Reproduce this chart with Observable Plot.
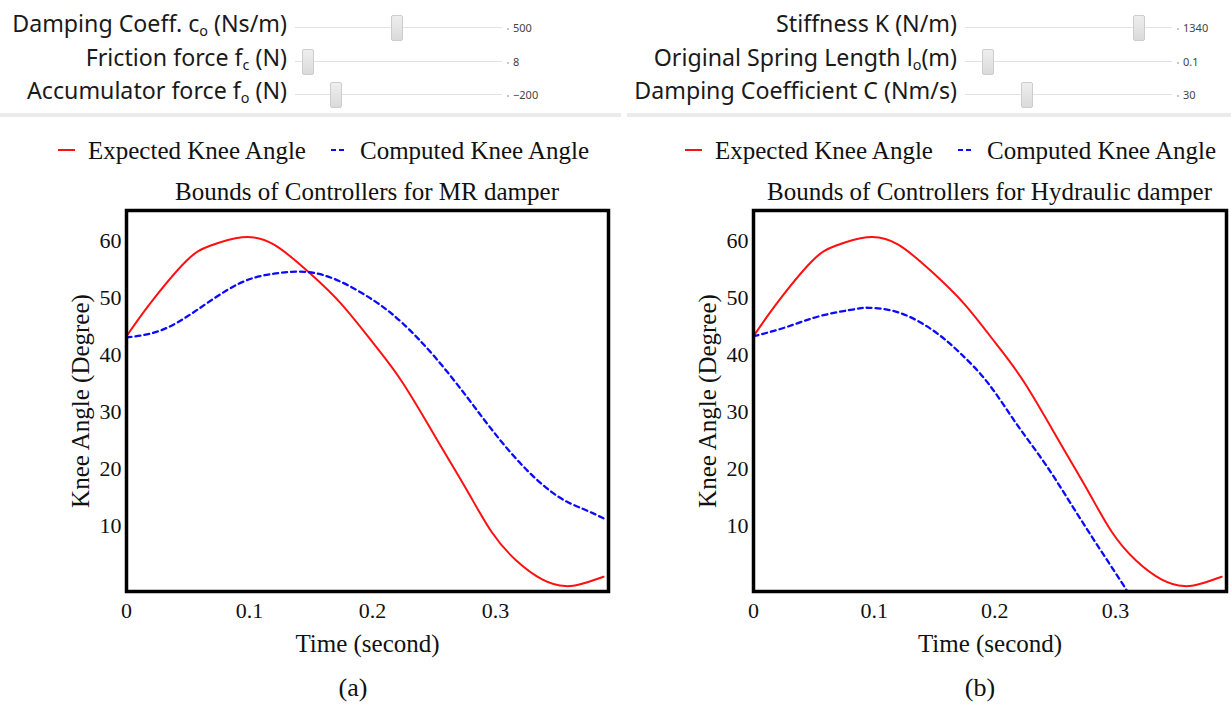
<!DOCTYPE html>
<html><head><meta charset="utf-8">
<script src="https://cdn.jsdelivr.net/npm/d3@7"></script>
<script src="https://cdn.jsdelivr.net/npm/@observablehq/plot@0.6"></script>
<style>
body{margin:0;background:#fff;}
#root{position:relative;width:1231px;height:704px;overflow:hidden;font-family:"Liberation Serif",serif;color:#111;}
#root svg text, #root svg tspan{font-family:"Liberation Serif",serif !important;}
#root svg g[aria-label$="tick label"] text{font-size:22px !important;font-variant:normal !important;}
.abs{position:absolute;white-space:nowrap;line-height:1;}
.lab{font-family:"Noto Sans",sans-serif;font-size:23.2px;color:#1a1a1a;text-align:right;}
.lab sub{font-size:0.62em;vertical-align:-0.28em;line-height:0;}
.track{position:absolute;height:1px;background:#e2e2e2;}
.thumb{position:absolute;width:10px;height:24px;border:1px solid #cdcdcd;border-radius:2px;background:linear-gradient(#eeeeee,#dadada);box-sizing:content-box;}
.val{font-family:"Noto Sans",sans-serif;font-size:11px;color:#444;}
.dot{position:absolute;width:2px;height:2px;background:#c8c8c8;}
.sep{position:absolute;height:4px;background:#ebebeb;}
.serif25{font-family:"Liberation Serif",serif;font-size:25px;color:#111;}
.sw{position:absolute;height:0;}
</style></head>
<body><div id="root"></div>
<script>
// ---------- data ----------
const sliderLabelsA = ["Damping Coeff. c<sub>o</sub> (Ns/m)", "Friction force f<sub>c</sub> (N)", "Accumulator force f<sub>o</sub> (N)"];
const sliderValuesA = ["500", "8", "\u2212200"];
const sliderLabelsB = ["Stiffness K (N/m)", "Original Spring Length l<sub>o</sub>(m)", "Damping Coefficient C (Nm/s)"];
const sliderValuesB = ["1340", "0.1", "30"];

const seriesNames = ["Expected Knee Angle", "Computed Knee Angle"];
const chartTitles = ["Bounds of Controllers for MR damper", "Bounds of Controllers for Hydraulic damper"];
const captions = ["(a)", "(b)"];
const xLabel = "Time (second)";
const yLabel = "Knee Angle (Degree)";
const xTicks = [0, 0.1, 0.2, 0.3];
const yTicks = [10, 20, 30, 40, 50, 60];

const expectedTime  = [0, 0.019, 0.048, 0.068, 0.094, 0.120, 0.149, 0.175, 0.201, 0.225, 0.254, 0.277, 0.297, 0.317, 0.338, 0.357, 0.372, 0.388];
const expectedAngle = [43.3, 49.0, 56.4, 59.2, 60.7, 59.4, 54.4, 48.9, 42.0, 35.0, 24.6, 16.2, 8.9, 3.9, 0.6, -0.6, -0.1, 1.05];

const mrTime  = [0, 0.0275, 0.0565, 0.091, 0.120, 0.146, 0.172, 0.201, 0.225, 0.251, 0.277, 0.300, 0.326, 0.352, 0.372, 0.388];
const mrAngle = [43.1, 44.3, 47.8, 52.5, 54.3, 54.6, 53.1, 49.6, 45.5, 39.6, 32.6, 26.1, 19.7, 15.0, 12.9, 11.3];

const hydTime  = [0, 0.027, 0.056, 0.085, 0.096, 0.120, 0.149, 0.172, 0.195, 0.218, 0.242, 0.265, 0.288, 0.308, 0.314];
const hydAngle = [43.3, 44.9, 46.9, 48.1, 48.3, 47.5, 44.3, 40.2, 34.9, 27.9, 20.8, 13.2, 5.6, -0.9, -3.0];

const xDomain = [0, 0.392];
const yDomain = [-1.55, 65.4];

// ---------- helpers ----------
const root = document.getElementById("root");
function el(cls, css, html) {
  const d = document.createElement("div");
  d.className = cls;
  Object.assign(d.style, css);
  if (html != null) d.innerHTML = html;
  root.appendChild(d);
  return d;
}
const toRows = (ts, vs) => ts.map((t, i) => ({t, v: vs[i]}));
const expected = toRows(expectedTime, expectedAngle);
const computedMR = toRows(mrTime, mrAngle);
const computedHyd = toRows(hydTime, hydAngle);

// ---------- sliders ----------
function sliders(labels, values, labelRight, trackLeft, thumbs) {
  const baselines = [31, 65, 98];
  labels.forEach((lab, i) => {
    el("abs lab", {right: (1231 - labelRight) + "px", top: (baselines[i] - 18.6) + "px"}, lab);
    const ty = baselines[i] - 4;
    el("track", {left: trackLeft + "px", width: "207px", top: ty + "px"});
    el("thumb", {left: (thumbs[i] - 6) + "px", top: (ty - 12) + "px"});
    el("dot", {left: (trackLeft + 212) + "px", top: (ty + 1) + "px"});
    el("abs val", {left: (trackLeft + 218) + "px", top: (ty - 5) + "px"}, values[i]);
  });
}
sliders(sliderLabelsA, sliderValuesA, 287, 295, [397, 308, 336]);
sliders(sliderLabelsB, sliderValuesB, 957, 965, [1139, 988, 1027]);
el("sep", {left: "0px", width: "621px", top: "113px"});
el("sep", {left: "627px", width: "604px", top: "113px"});

// ---------- charts ----------
const serif = "Liberation Serif";
function chart(computed, idx, svgLeft, svgWidth, frameLeft, frameRight, legendShift, captionX) {
  const svgTop = 200;
  const plot = Plot.plot({
    width: svgWidth,
    height: 470,
    marginLeft: frameLeft - svgLeft,
    marginRight: svgLeft + svgWidth - frameRight,
    marginTop: 10,
    marginBottom: 79,
    style: {fontFamily: serif, fontSize: "22px", color: "#111", background: "transparent", overflow: "visible"},
    x: {domain: xDomain},
    y: {domain: yDomain},
    marks: [
      Plot.line(expected, {x: "t", y: "v", stroke: "#ff1010", strokeWidth: 2, curve: "natural", clip: true}),
      Plot.line(computed, {x: "t", y: "v", stroke: "#0a0aff", strokeWidth: 2.3, strokeDasharray: "5,4", curve: "natural", clip: true}),
      Plot.frame({stroke: "#000", strokeWidth: 3.5}),
      Plot.axisX({ticks: xTicks, tickSize: 0, tickPadding: 11, fontSize: 22, fontFamily: serif, label: null, tickFormat: d => String(d)}),
      Plot.axisX({ticks: [], tickSize: 0, label: xLabel, labelAnchor: "center", labelArrow: "none", labelOffset: 60, fontSize: 25, fontFamily: serif}),
      Plot.axisY({ticks: yTicks, tickSize: 0, tickPadding: 5, fontSize: 22, fontFamily: serif, label: null}),
      Plot.axisY({ticks: [], tickSize: 0, label: yLabel, labelAnchor: "center", labelArrow: "none", labelOffset: 55, fontSize: 25, fontFamily: serif})
    ]
  });
  plot.style.position = "absolute";
  plot.style.left = svgLeft + "px";
  plot.style.top = svgTop + "px";
  root.appendChild(plot);

  // legend (above)
  const ly = 150;
  el("sw", {left: (58 + legendShift) + "px", top: (ly - 1) + "px", width: "17px", borderTop: "2px solid #ff1010"});
  el("abs serif25", {left: (88 + legendShift) + "px", top: (159 - 21) + "px"}, seriesNames[0]);
  el("sw", {left: (331 + legendShift) + "px", top: (ly - 1) + "px", width: "5px", borderTop: "2px solid #0a0aff"});
  el("sw", {left: (339 + legendShift) + "px", top: (ly - 1) + "px", width: "5px", borderTop: "2px solid #0a0aff"});
  el("abs serif25", {left: (360 + legendShift) + "px", top: (159 - 21) + "px"}, seriesNames[1]);
  // title
  const cx = (frameLeft + frameRight) / 2;
  el("abs serif25", {left: (cx - 300) + "px", width: "600px", textAlign: "center", top: (200 - 21) + "px"}, chartTitles[idx]);
  // caption (below)
  el("abs serif25", {left: (captionX - 50) + "px", width: "100px", textAlign: "center", top: (697 - 22) + "px", fontSize: "26px"}, captions[idx]);
}
chart(computedMR, 0, 0, 620, 126, 608, 0, 353);
chart(computedHyd, 1, 627, 604, 753, 1226, 627, 980);
</script>
</body></html>
